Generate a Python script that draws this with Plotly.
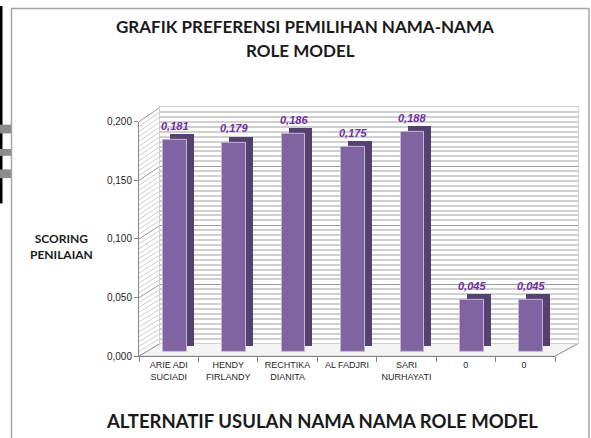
import plotly.graph_objects as go
import numpy as np

categories = ["ARIE ADI<br>SUCIADI", "HENDY<br>FIRLANDY", "RECHTIKA<br>DIANITA", "AL FADJRI",
              "SARI<br>NURHAYATI", "0", "0 "]
values = [0.181, 0.179, 0.186, 0.175, 0.188, 0.045, 0.045]
value_labels = ["0,181", "0,179", "0,186", "0,175", "0,188", "0,045", "0,045"]
y_ticks = [0, 0.05, 0.10, 0.15, 0.20]
y_ticklabels = ["0,000", "0,050", "0,100", "0,150", "0,200"]

W, H = 591, 438
YMAX = 0.2
idx = list(range(len(categories)))

def xd(a, b):
    return [a / W, b / W]

def yd(bottom_px, top_px):
    return [1 - bottom_px / H, 1 - top_px / H]

# pixel geometry (3D emulation)
front_x = (139, 555); front_y = (360, 119)
bar_dx, bar_dy = 6, 4
dep_dx, dep_dy = 13, 10
wall_x = (160, 578); wall_y = (347, 104)

FRONT = "#8064a2"
SIDE = "#55416f"
LABEL = "#7030a0"

fig = go.Figure()

# back wall (grid only) -> x/y (drawn first)
fig.add_trace(go.Scatter(x=[0], y=[0], xaxis="x", yaxis="y", mode="markers",
                         marker=dict(opacity=0), hoverinfo="skip", showlegend=False))
# depth (side/top faces) -> x2/y2
fig.add_trace(go.Bar(x=idx, y=values, xaxis="x2", yaxis="y2", width=0.40,
                     marker=dict(color=SIDE, line=dict(width=0)), hoverinfo="skip", showlegend=False))
# front faces -> x3/y3
fig.add_trace(go.Bar(x=idx, y=values, xaxis="x3", yaxis="y3", width=0.40,
                     marker=dict(color=FRONT, line=dict(color="#c4b5d8", width=1)), showlegend=False,
                     hovertext=categories, hoverinfo="text+y"))
# front axes -> x4/y4
fig.add_trace(go.Scatter(x=idx, y=[None]*len(idx), xaxis="x4", yaxis="y4", mode="markers",
                         hoverinfo="skip", showlegend=False))

hidden = dict(showgrid=False, zeroline=False, showticklabels=False, showline=False, ticks="")
xr = [-0.5, len(idx) - 0.5]

fig.update_layout(
    width=W, height=H, margin=dict(l=0, r=0, t=0, b=0),
    paper_bgcolor="white", plot_bgcolor="rgba(0,0,0,0)",
    separators=",.",
    bargap=0,
    xaxis=dict(domain=xd(*wall_x), range=xr, anchor="y", showgrid=False, zeroline=False,
               showticklabels=False, ticks="", showline=True, linecolor="#d0d0d0", mirror=True),
    yaxis=dict(domain=yd(*wall_y), range=[0, YMAX], anchor="x", dtick=0.05, tick0=0,
               showgrid=True, gridcolor="#9a9a9a", gridwidth=1, zeroline=False,
               showticklabels=False, ticks="", showline=True, linecolor="#d0d0d0", mirror=True,
               minor=dict(dtick=0.05 / 12, tick0=0, showgrid=True, gridcolor="#d0d0d0", gridwidth=1.5)),
    xaxis2=dict(domain=xd(front_x[0] + dep_dx, front_x[1] + dep_dx), range=xr, anchor="y2", **hidden),
    yaxis2=dict(domain=yd(front_y[0] - dep_dy, front_y[1] - dep_dy), range=[0, YMAX], anchor="x2", **hidden),
    xaxis3=dict(domain=xd(front_x[0] + bar_dx, front_x[1] + bar_dx), range=xr, anchor="y3", **hidden),
    yaxis3=dict(domain=yd(front_y[0] - bar_dy, front_y[1] - bar_dy), range=[0, YMAX], anchor="x3", **hidden),
    xaxis4=dict(domain=xd(*front_x), range=xr, tickvals=idx, ticktext=categories, tickangle=0,
                showline=True, linecolor="#868686", linewidth=1,
                ticks="", showgrid=False, zeroline=False,
                tickfont=dict(family="Liberation Sans Narrow, Arial Narrow, Liberation Sans", size=9, color="#262626"),
                anchor="y4",
                minor=dict(tickvals=[i - 0.5 for i in idx] + [len(idx) - 0.5], ticks="outside",
                           ticklen=5, tickcolor="#868686")),
    yaxis4=dict(domain=yd(*front_y), range=[0, YMAX], tickvals=y_ticks, ticktext=y_ticklabels,
                showline=True, linecolor="#868686", linewidth=1, ticks="outside", ticklen=4,
                tickcolor="#868686", showgrid=False, zeroline=False,
                tickfont=dict(family="Liberation Sans, Arial", size=10, color="#262626"),
                anchor="x4"),
)

shapes = []
fx0, fx1 = front_x[0] / W, front_x[1] / W
wx0, wx1 = wall_x[0] / W, wall_x[1] / W
fy0 = 1 - front_y[0] / H
wy0 = 1 - wall_y[0] / H
# floor
shapes.append(dict(type="path", xref="paper", yref="paper", layer="below",
                   path=f"M {fx0},{fy0} L {fx1},{fy0} L {wx1},{wy0} L {wx0},{wy0} Z",
                   fillcolor="#f4f4f4", line=dict(color="#bfbfbf", width=1)))
# left side wall hatch
fy_scale = (front_y[0] - front_y[1]) / YMAX
wy_scale = (wall_y[0] - wall_y[1]) / YMAX
for v in np.arange(0, YMAX + 1e-9, 0.05 / 12):
    y_f = 1 - (front_y[0] - v * fy_scale) / H
    y_w = 1 - (wall_y[0] - v * wy_scale) / H
    major = abs((v / 0.05) - round(v / 0.05)) < 1e-6
    shapes.append(dict(type="line", xref="paper", yref="paper", layer="below",
                       x0=fx0, y0=y_f, x1=wx0, y1=y_w,
                       line=dict(color="#9a9a9a" if major else "#cfcfcf", width=1)))
shapes.append(dict(type="line", xref="paper", yref="paper", layer="below",
                   x0=fx1, y0=fy0, x1=wx1, y1=wy0, line=dict(color="#9a9a9a", width=1)))
# outer chart border
shapes.append(dict(type="rect", xref="paper", yref="paper", x0=11.5 / W, x1=589 / W,
                   y0=-0.05, y1=1 - 2.5 / H, line=dict(color="#a6a6a6", width=1.5),
                   fillcolor="rgba(0,0,0,0)", layer="below"))
# page artifacts at far left
shapes.append(dict(type="rect", xref="paper", yref="paper", x0=0, x1=2.5 / W, y0=1 - 203 / H, y1=1,
                   fillcolor="black", line=dict(width=0)))
for (a, b) in [(122, 131), (147, 154), (168, 177)]:
    shapes.append(dict(type="rect", xref="paper", yref="paper", x0=0, x1=11 / W,
                       y0=1 - b / H, y1=1 - a / H, fillcolor="#8c8c8c", line=dict(width=0)))
fig.update_layout(shapes=shapes)

ann = []
for i, v, t in zip(idx, values, value_labels):
    ann.append(dict(x=i, y=v, xref="x3", yref="y3", text=f"<b><i>{t}</i></b>", showarrow=False,
                    xanchor="center", yanchor="bottom", yshift=6,
                    font=dict(family="Liberation Sans, Arial", size=11, color=LABEL)))
title_font = dict(family="Lato, Open Sans", size=17, color="#1a1a1a")
ann.append(dict(x=305 / W, y=1 - 21 / H, xref="paper", yref="paper", showarrow=False,
                xanchor="center", yanchor="middle",
                text="<b>GRAFIK PREFERENSI PEMILIHAN NAMA-NAMA</b>", font=title_font))
ann.append(dict(x=300 / W, y=1 - 46 / H, xref="paper", yref="paper", showarrow=False,
                xanchor="center", yanchor="middle",
                text="<b>ROLE MODEL</b>", font=title_font))
ann.append(dict(x=322 / W, y=1 - 427 / H, xref="paper", yref="paper", showarrow=False,
                xanchor="center", yanchor="middle",
                text="<b>ALTERNATIF USULAN NAMA NAMA ROLE MODEL</b>",
                font=dict(family="Lato, Open Sans", size=18.5, color="#1a1a1a")))
ann.append(dict(x=61 / W, y=1 - 247 / H, xref="paper", yref="paper", showarrow=False,
                xanchor="center", yanchor="middle",
                text="<b>SCORING<br>PENILAIAN</b>", align="center",
                font=dict(family="Lato, Open Sans", size=12, color="#1a1a1a")))
fig.update_layout(annotations=ann)

fig.write_html("out.html", config={"displayModeBar": False},
               post_script="document.body.style.margin='0';")
